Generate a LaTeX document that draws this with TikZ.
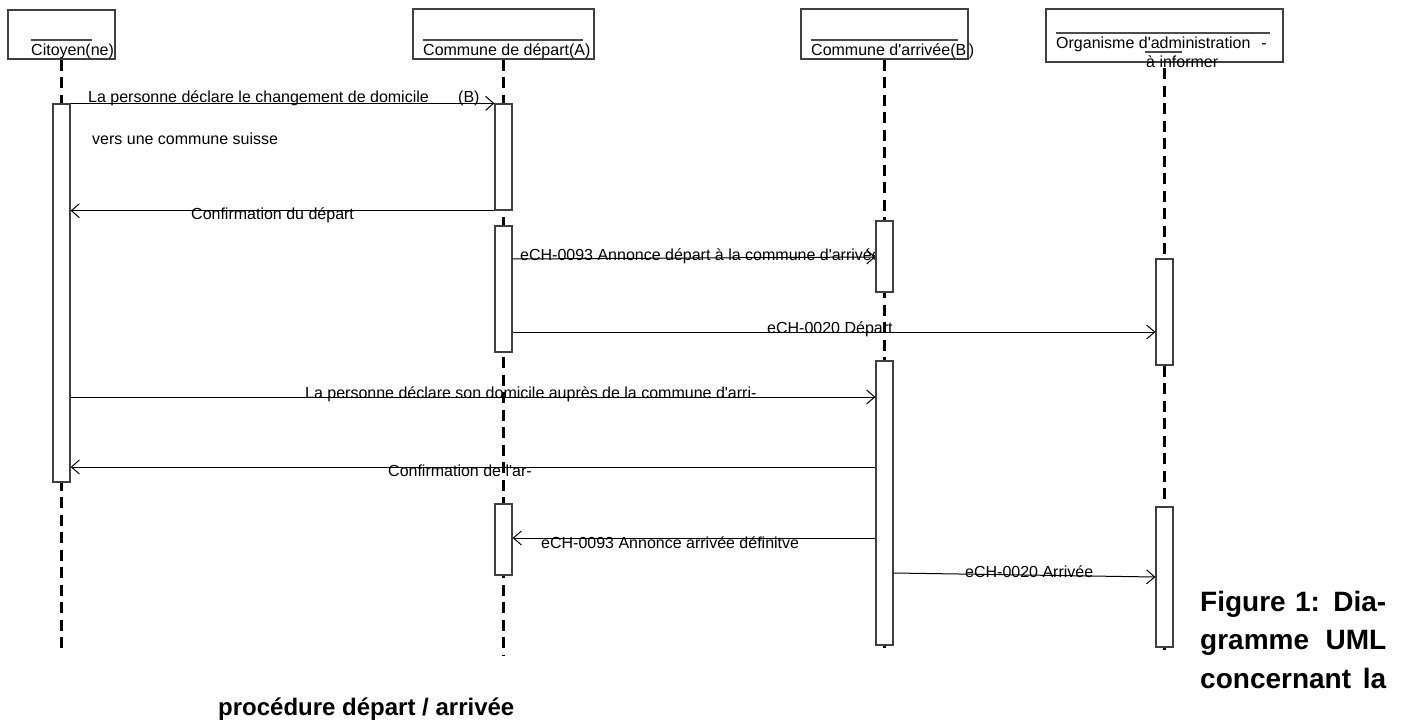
\documentclass[tikz,border=0pt]{standalone}
\usepackage{fontspec}
\setmainfont{Liberation Sans}
\usetikzlibrary{arrows.meta}

\begin{document}
\begin{tikzpicture}[
    x=1pt, y=-1pt,
    head/.style={draw=black!75, line width=1.2pt, inner sep=0pt},
    headline/.style={draw=black!70, line width=1.2pt},
    lbl/.style={anchor=base west, inner sep=0pt, font=\fontsize{16}{19}\selectfont},
    captxt/.style={anchor=base west, inner sep=0pt, font=\bfseries\fontsize{24}{29}\selectfont},
    act/.style={draw=black!75, fill=white, line width=1.3pt, minimum width=17pt, inner sep=0pt},
    life/.style={line width=2.6pt, dash pattern=on 11pt off 6.5pt},
    msg/.style={-{Straight Barb[length=8pt, width=14pt]}, line width=1pt}
  ]
    \useasboundingbox (0,0) rectangle (1404,722);

    \node[head, minimum width=107pt, minimum height=49pt] (cit) at (61.5,34.5) {};
    \node[head, minimum width=181pt, minimum height=50pt] (dep) at (503.5,34) {};
    \node[head, minimum width=167pt, minimum height=50pt] (arr) at (884.5,34) {};
    \node[head, minimum width=237pt, minimum height=53pt] (org) at (1164.5,35.5) {};
    \draw[headline] (31,40) -- (92,40);
    \draw[headline] (423,40) -- (583,40);
    \draw[headline] (811,40) -- (958,40);
    \draw[headline] (1056,33) -- (1270,33);
    \draw[headline] (1145,52) -- (1182,52);
    \node[lbl] (citn) at (31,56) {Citoyen(ne)};
    \node[lbl] (depn) at (423,56) {Commune de départ(A)};
    \node[lbl] (arrn) at (811,56) {Commune d\textquotesingle arrivée(B\,)};
    \node[lbl] (orgn) at (1056,49) {Organisme d\textquotesingle administration\hspace{11pt}-};
    \node[lbl] (orgn2) at (1146,68) {à informer};

    \node[lbl] (m1) at (88,103) {La personne déclare le changement de domicile};
    \node[lbl] (m1b) at (458,103) {(B)};
    \node[lbl] (m1c) at (92,145) {vers une commune suisse};
    \node[lbl] (m2) at (191,219) {Confirmation du départ};
    \node[lbl] (m3) at (520,260) {eCH-0093 Annonce départ à la commune d\textquotesingle arrivée};
    \node[lbl] (m4) at (767,333) {eCH-0020 Départ};
    \node[lbl] (m5) at (305,398) {La personne déclare son domicile auprès de la commune d\textquotesingle arri-};
    \node[lbl] (m6) at (388,476) {Confirmation de l\textquotesingle ar-};
    \node[lbl] (m7) at (541,548) {eCH-0093 Annonce arrivée définitve};
    \node[lbl] (m8) at (965,577) {eCH-0020 Arrivée};

    \coordinate (citend) at (cit.south |- 0,651);
    \coordinate (depend) at (dep.south |- 0,655);
    \coordinate (arrend) at (arr.south |- 0,653);
    \coordinate (orgend) at (org.south |- 0,650);
    \draw[life] (cit.south) -- (citend);
    \draw[life] (dep.south) -- (depend);
    \draw[life] (arr.south) -- (arrend);
    \draw[life] (orgn2.south -| org.south) -- (orgend);

    \node[act, minimum height=378pt] (c1) at (61.5,293) {};
    \node[act, minimum height=106pt] (d1) at (503.5,157) {};
    \node[act, minimum height=126pt] (d2) at (503.5,289) {};
    \node[act, minimum height=71pt] (d3) at (503.5,539.5) {};
    \node[act, minimum height=71pt] (a1) at (884.5,256.5) {};
    \node[act, minimum height=284pt] (a2) at (884.5,503) {};
    \node[act, minimum height=106pt] (o1) at (1164.5,312) {};
    \node[act, minimum height=140pt] (o2) at (1164.5,577) {};

    \draw[msg] (c1.north east) -- (d1.north west);
    \draw[msg] (d1.south west) -- (c1.east |- d1.south);
    \draw[msg] (d2.east |- 0,259) -- (a1.west |- 0,257);
    \draw[msg] (d2.east |- 0,332) -- (o1.west |- 0,332);
    \draw[msg] (c1.east |- 0,397) -- (a2.west |- 0,397);
    \draw[msg] (a2.west |- 0,467) -- (c1.east |- 0,467);
    \draw[msg] (a2.west |- 0,538) -- (d3.east |- 0,538);
    \draw[msg] (a2.east |- 0,573) -- (o2.west |- 0,577);

    \node[captxt, font=\bfseries\fontsize{28}{34}\selectfont] (fig1) at (1200,611) {\makebox[186pt][s]{Figure 1: Dia-}};
    \node[captxt, font=\bfseries\fontsize{28}{34}\selectfont] (fig2) at (1200,649) {\makebox[186pt][s]{gramme UML}};
    \node[captxt, font=\bfseries\fontsize{28}{34}\selectfont] (fig3) at (1200,688) {\makebox[186pt][s]{concernant la}};
    \node[captxt] (fig4) at (218,715) {procédure départ / arrivée};
  \end{tikzpicture}
\end{document}
